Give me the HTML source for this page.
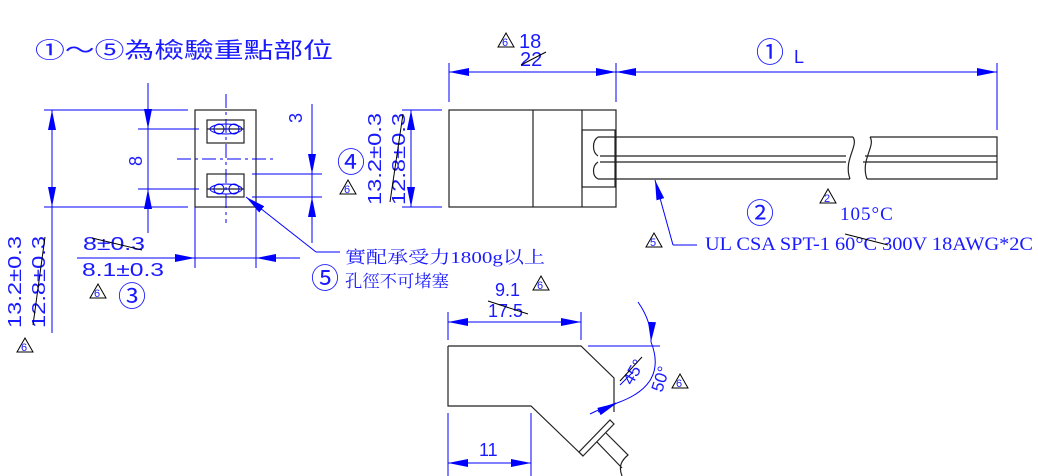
<!DOCTYPE html>
<html><head><meta charset="utf-8"><style>
html,body{margin:0;padding:0;background:#fff;}
svg{display:block;}
.b{stroke:#0000ff;stroke-width:1;fill:none;}
.k{stroke:#222;stroke-width:1.2;fill:none;}
.t{fill:#1a1aff;font-family:"Liberation Sans",sans-serif;}
.c{fill:#1a1aff;font-family:"Liberation Serif","Noto Serif CJK SC",serif;}
.o{fill:#1a1aff;font-family:"Noto Sans CJK SC",sans-serif;}
.tri{stroke:#000;stroke-width:1;fill:none;}
.tn{fill:#1a1aff;font-family:"Liberation Sans",sans-serif;font-size:11px;}
</style></head><body>
<svg width="1038" height="476" viewBox="0 0 1038 476" xmlns="http://www.w3.org/2000/svg">
<defs>
<marker id="a" viewBox="0 0 20 8" refX="20" refY="4" markerWidth="20" markerHeight="8" markerUnits="userSpaceOnUse" orient="auto"><path d="M0,0L20,4L0,8z" fill="#0000ff"/></marker>
<g id="tr"><path class="tri" d="M0,0L-8,14L8,14z"/></g>
</defs>

<text x="35" y="58" class="o" font-size="22" textLength="298" lengthAdjust="spacingAndGlyphs">①～⑤為檢驗重點部位</text>

<!-- FRONT VIEW -->
<rect x="195" y="110" width="61" height="97" class="k"/>
<rect x="207" y="120" width="37" height="23" class="k"/>
<rect x="207" y="174" width="37" height="23" class="k"/>
<line x1="207" y1="129" x2="244" y2="129" class="k"/>
<line x1="207" y1="189" x2="244" y2="189" class="k"/>
<ellipse cx="226" cy="129" rx="16" ry="5" class="b"/>
<circle cx="219" cy="129" r="5" class="b"/><circle cx="234" cy="129" r="5" class="b"/>
<ellipse cx="226" cy="189" rx="16" ry="5" class="b"/>
<circle cx="219" cy="189" r="5" class="b"/><circle cx="234" cy="189" r="5" class="b"/>
<line x1="226" y1="94" x2="226" y2="223" class="b" stroke-dasharray="14,4,3,4"/>
<line x1="177" y1="159" x2="273" y2="159" class="b" stroke-dasharray="14,4,3,4"/>

<line x1="44" y1="110" x2="188" y2="110" class="b"/>
<line x1="44" y1="207" x2="188" y2="207" class="b"/>
<line x1="52" y1="333" x2="52" y2="158" class="b"/>
<line x1="52" y1="158" x2="52" y2="110" class="b" marker-end="url(#a)"/>
<line x1="52" y1="158" x2="52" y2="207" class="b" marker-end="url(#a)"/>
<text transform="translate(21,328) rotate(-90)" class="t" font-size="18" textLength="92" lengthAdjust="spacingAndGlyphs">13.2±0.3</text>
<text transform="translate(45,328) rotate(-90)" class="t" font-size="18" textLength="92" lengthAdjust="spacingAndGlyphs">12.8±0.3</text>
<line x1="33" y1="325" x2="45" y2="237" stroke="#000" stroke-width="1"/>
<use href="#tr" x="25" y="338"/><text x="21" y="351" class="tn">6</text>

<line x1="138" y1="129" x2="199" y2="129" class="b"/>
<line x1="138" y1="189" x2="199" y2="189" class="b"/>
<line x1="148" y1="83" x2="148" y2="129" class="b" marker-end="url(#a)"/>
<line x1="148" y1="233" x2="148" y2="189" class="b" marker-end="url(#a)"/>
<line x1="148" y1="129" x2="148" y2="189" class="b"/>
<text transform="translate(142,166) rotate(-90)" class="t" font-size="18">8</text>

<line x1="252" y1="174" x2="322" y2="174" class="b"/>
<line x1="252" y1="197" x2="322" y2="197" class="b"/>
<line x1="312" y1="104" x2="312" y2="174" class="b" marker-end="url(#a)"/>
<line x1="312" y1="243" x2="312" y2="197" class="b" marker-end="url(#a)"/>
<line x1="312" y1="174" x2="312" y2="197" class="b"/>
<text transform="translate(302,123) rotate(-90)" class="t" font-size="18">3</text>

<line x1="195" y1="207" x2="195" y2="268" class="b"/>
<line x1="256" y1="207" x2="256" y2="268" class="b"/>
<line x1="77" y1="258" x2="195" y2="258" class="b" marker-end="url(#a)"/>
<line x1="300" y1="258" x2="256" y2="258" class="b" marker-end="url(#a)"/>
<line x1="195" y1="258" x2="256" y2="258" class="b"/>
<text x="83" y="250" class="t" font-size="18" textLength="62" lengthAdjust="spacingAndGlyphs">8±0.3</text>
<line x1="92" y1="238" x2="142" y2="250" stroke="#000" stroke-width="1"/>
<text x="82" y="276" class="t" font-size="18" textLength="82" lengthAdjust="spacingAndGlyphs">8.1±0.3</text>
<use href="#tr" x="98" y="284"/><text x="94" y="297" class="tn">6</text>
<text x="118" y="306" class="o" font-size="28">③</text>

<line x1="316" y1="252" x2="246" y2="197" class="b" marker-end="url(#a)"/>
<line x1="316" y1="252" x2="340" y2="252" class="b"/>
<text x="345" y="263" class="c" font-size="17" textLength="200" lengthAdjust="spacingAndGlyphs">實配承受力1800g以上</text>
<text x="311" y="288" class="o" font-size="28">⑤</text>
<text x="345" y="287" class="c" font-size="17" textLength="104" lengthAdjust="spacingAndGlyphs">孔徑不可堵塞</text>

<!-- SIDE VIEW -->
<rect x="449" y="110" width="167" height="97" class="k"/>
<line x1="533" y1="110" x2="533" y2="207" class="k"/>
<line x1="582" y1="110" x2="582" y2="207" class="k"/>
<rect x="582" y="130" width="33" height="57" class="k"/>
<path d="M598,137 L853,137" class="k"/>
<path d="M598,179 L850,179" class="k"/>
<path d="M600,156 L846,156 M600,162 L846,162" class="k"/>
<path d="M598,137 C592,141 592,152 598,156 M598,162 C592,166 592,176 598,179" class="k"/>
<path d="M853,137 C859,146 843,160 850,179" class="k"/>
<path d="M870,137 C876,146 860,160 867,179" class="k"/>
<path d="M870,137 L997,137 L997,179 L867,179 M865,156 L997,156 M863,162 L997,162" class="k"/>

<line x1="449" y1="63" x2="449" y2="102" class="b"/>
<line x1="616" y1="63" x2="616" y2="102" class="b"/>
<line x1="997" y1="63" x2="997" y2="130" class="b"/>
<line x1="532" y1="72" x2="449" y2="72" class="b" marker-end="url(#a)"/>
<line x1="532" y1="72" x2="616" y2="72" class="b" marker-end="url(#a)"/>
<line x1="800" y1="72" x2="616" y2="72" class="b" marker-end="url(#a)"/>
<line x1="800" y1="72" x2="997" y2="72" class="b" marker-end="url(#a)"/>
<use href="#tr" x="506" y="33"/><text x="502" y="46" class="tn">6</text>
<text x="519" y="48" class="t" font-size="20">18</text>
<text x="520" y="66" class="t" font-size="20">22</text>
<line x1="521" y1="65" x2="546" y2="52" stroke="#000" stroke-width="1"/>
<text x="756" y="62" class="o" font-size="28">①</text>
<text x="794" y="63" class="t" font-size="18">L</text>

<line x1="402" y1="110" x2="442" y2="110" class="b"/>
<line x1="402" y1="207" x2="442" y2="207" class="b"/>
<line x1="411" y1="158" x2="411" y2="110" class="b" marker-end="url(#a)"/>
<line x1="411" y1="158" x2="411" y2="207" class="b" marker-end="url(#a)"/>
<text x="337" y="172" class="o" font-size="28">④</text>
<use href="#tr" x="348" y="180"/><text x="344" y="193" class="tn">6</text>
<text transform="translate(381,205) rotate(-90)" class="t" font-size="18" textLength="92" lengthAdjust="spacingAndGlyphs">13.2±0.3</text>
<text transform="translate(405,205) rotate(-90)" class="t" font-size="18" textLength="92" lengthAdjust="spacingAndGlyphs">12.8±0.3</text>
<line x1="390" y1="202" x2="403" y2="114" stroke="#000" stroke-width="1"/>

<line x1="673" y1="245" x2="655" y2="180" class="b" marker-end="url(#a)"/>
<line x1="673" y1="245" x2="697" y2="245" class="b"/>
<use href="#tr" x="654" y="233"/><text x="650" y="246" class="tn">5</text>
<text x="705" y="250" class="c" font-size="19" textLength="328" lengthAdjust="spacingAndGlyphs">UL CSA SPT-1 60°C 300V 18AWG*2C</text>
<line x1="845" y1="234" x2="888" y2="245" stroke="#000" stroke-width="1"/>
<text x="746" y="223" class="o" font-size="28">②</text>
<use href="#tr" x="828" y="189"/><text x="824" y="202" class="tn">2</text>
<text x="840" y="220" class="c" font-size="19" letter-spacing="1">105°C</text>

<!-- BOTTOM VIEW -->
<path d="M448,346 L581,346 L614,378 L614,412" class="k"/>
<path d="M448,346 L448,406 L531,406 L583,456" class="k"/>
<path d="M583,456 L614,424 L610,420 L579,452 Z" class="k"/>
<path d="M597,442 L622,468 M606,433 L628,455 C622,460 618,466 622,476" class="k"/>
<line x1="448" y1="312" x2="448" y2="340" class="b"/>
<line x1="581" y1="312" x2="581" y2="340" class="b"/>
<line x1="514" y1="322" x2="448" y2="322" class="b" marker-end="url(#a)"/>
<line x1="514" y1="322" x2="581" y2="322" class="b" marker-end="url(#a)"/>
<text x="495" y="296" class="t" font-size="18">9.1</text>
<use href="#tr" x="541" y="276"/><text x="537" y="289" class="tn">6</text>
<text x="488" y="317" class="t" font-size="18">17.5</text>
<line x1="488" y1="301" x2="528" y2="314" stroke="#000" stroke-width="1"/>
<line x1="448" y1="413" x2="448" y2="476" class="b"/>
<line x1="531" y1="413" x2="531" y2="476" class="b"/>
<line x1="490" y1="463" x2="448" y2="463" class="b" marker-end="url(#a)"/>
<line x1="490" y1="463" x2="531" y2="463" class="b" marker-end="url(#a)"/>
<text x="479" y="456" class="t" font-size="18">11</text>

<line x1="588" y1="346" x2="660" y2="346" class="b"/>
<path d="M638,302 Q652,322 651,342" class="b" marker-end="url(#a)"/>
<path d="M651,342 Q668,385 617,403" class="b"/>
<path d="M590,414 Q602,408 616,403" class="b"/>
<path d="M598,412 L617,403" class="b" marker-end="url(#a)"/>
<line x1="620" y1="385" x2="633" y2="372" class="b"/>
<text transform="translate(632,386) rotate(-60)" class="t" font-size="17">45°</text>
<line x1="620" y1="381" x2="642" y2="357" stroke="#000" stroke-width="1"/>
<text transform="translate(662,393) rotate(-72)" class="t" font-size="17">50°</text>
<use href="#tr" x="680" y="374"/><text x="676" y="387" class="tn">6</text>
</svg>
</body></html>
